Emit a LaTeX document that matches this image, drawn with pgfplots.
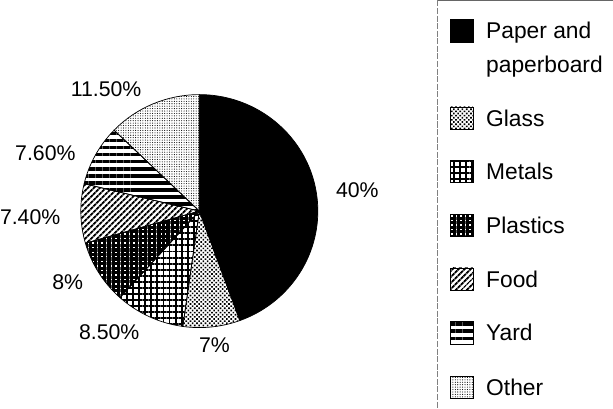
\documentclass[border=0pt]{standalone}
\usepackage{pgfplots}
\pgfplotsset{compat=1.18}
\usepackage{pgfplotstable}
\usetikzlibrary{patterns.meta}
\usepackage{fontspec}
\setmainfont{Liberation Sans}

\pgfplotstableread{
label value
Paper 40
Glass 7
Metals 8.5
Plastics 8
Food 7.4
Yard 7.6
Other 11.5
}\piedata

\tikzset{
  sPaper/.style={fill=black},
  sGlass/.style={pattern={Dots[angle=45,distance=3pt,radius=1.15pt]}},
  sMetals/.style={pattern={Hatch[angle=0,distance=6pt,line width=1.9pt]}},
  sPlastics/.style={pattern={Hatch[angle=0,distance=4.5pt,line width=3.1pt]}},
  sFood/.style={pattern={Lines[angle=45,distance=4pt,line width=2pt]}},
  sYard/.style={pattern={Lines[angle=0,distance=7pt,line width=3.5pt]}},
  sOther/.style={pattern={Dots[distance=2.4pt,radius=0.55pt]}},
}

\newcommand\cum{0}
\newcommand\pieslice[2]{%
  \filldraw[#2,draw=black,line width=0.7pt]
    (axis cs:205,203) --
    (axis cs:{205+117*cos(\csname ps#1\endcsname)},{203+115*sin(\csname ps#1\endcsname)})
    arc[start angle=\csname ps#1\endcsname, end angle=\csname pe#1\endcsname,
        x radius=117, y radius=115] -- cycle;}
\newcommand\legswatch[2]{%
  \filldraw[#2, draw=black, line width=0.5pt] (axis cs:453,#1-11) rectangle (axis cs:475,#1+11);}

\begin{document}
\begin{tikzpicture}[font=\fontsize{21bp}{26bp}\selectfont]
\pgfplotsforeachungrouped \i in {0,...,6}{%
  \pgfplotstablegetelem{\i}{value}\of\piedata
  \pgfmathsetmacro\s{90-4*\cum}%
  \pgfmathsetmacro\e{90-4*(\cum+\pgfplotsretval)}%
  \expandafter\xdef\csname ps\i\endcsname{\s}%
  \expandafter\xdef\csname pe\i\endcsname{\e}%
  \pgfmathsetmacro\newcum{\cum+\pgfplotsretval}%
  \xdef\cum{\newcum}%
}
\begin{axis}[width=613bp, height=421bp, scale only axis,
  xmin=0, xmax=613, ymin=0, ymax=421, hide axis, clip=false]
\pieslice{0}{sPaper}
\pieslice{1}{sGlass}
\pieslice{2}{sMetals}
\pieslice{3}{sPlastics}
\pieslice{4}{sFood}
\pieslice{5}{sYard}
\pieslice{6}{sOther}

\tikzset{lab/.style={text height=15.5bp, text depth=0pt, inner sep=0pt},
  leg/.style={lab, anchor=west, font=\fontsize{22.5bp}{26bp}\selectfont, text height=16bp}}
\node[lab] at (axis cs:361,224) {40\%};
\node[lab] at (axis cs:220,71) {7\%};
\node[lab] at (axis cs:116,84) {8.50\%};
\node[lab] at (axis cs:75,133) {8\%};
\node[lab] at (axis cs:38,198) {7.40\%};
\node[lab] at (axis cs:53,261) {7.60\%};
\node[lab] at (axis cs:113,324) {11.50\%};

% legend
\draw[black!60, line width=0.8pt] (axis cs:440,411) -- (axis cs:613,411);
\draw[black!50, line width=0.6pt, dash pattern=on 6pt off 1.5pt] (axis cs:440,411) -- (axis cs:440,8);
\legswatch{381}{sPaper}
\legswatch{295}{sGlass}
\legswatch{242}{sMetals}
\legswatch{189}{sPlastics}
\legswatch{136}{sFood}
\legswatch{83}{sYard}
\legswatch{29}{sOther}
\node[leg] at (axis cs:488,381) {Paper and};
\node[leg] at (axis cs:488,348) {paperboard};
\node[leg] at (axis cs:488,295) {Glass};
\node[leg] at (axis cs:488,242) {Metals};
\node[leg] at (axis cs:488,189) {Plastics};
\node[leg] at (axis cs:488,136) {Food};
\node[leg] at (axis cs:488,83) {Yard};
\node[leg] at (axis cs:488,29) {Other};
\end{axis}
\end{tikzpicture}
\end{document}
